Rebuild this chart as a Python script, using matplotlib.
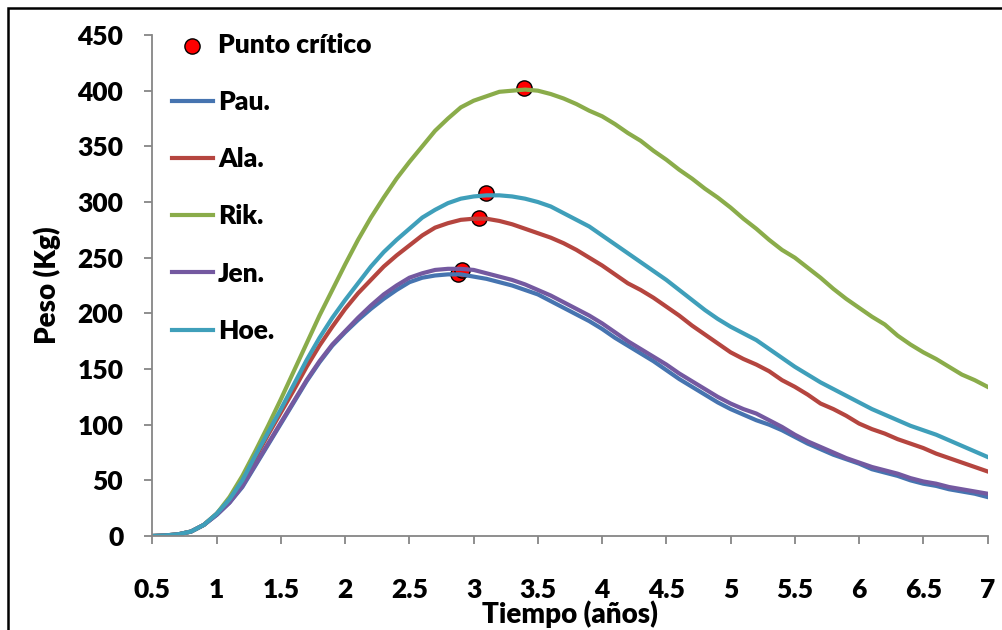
import matplotlib
matplotlib.use("Agg")
import matplotlib.pyplot as plt
from matplotlib.patches import Rectangle

plt.rcParams["font.family"] = ["Lato", "DejaVu Sans"]
plt.rcParams["font.weight"] = "heavy"
W = "heavy"

# tiempo (años), paso 0.1
t = [round(0.5 + 0.1 * i, 1) for i in range(66)]

pau = [0, 0.5, 1.5, 4, 10, 19, 30, 44, 63, 82, 101, 120, 139, 156, 171, 183, 194, 204, 213, 221,
       228, 232, 234, 235, 235, 233, 231, 228, 225, 221, 217, 211, 205, 199, 193, 186, 178, 171, 164, 157,
       149, 141, 134, 127, 120, 114, 109, 104, 100, 95, 89, 83, 78, 73, 69, 65, 60, 57, 54, 50,
       47, 45, 42, 40, 38, 35]
ala = [0, 0.5, 1.5, 4, 10, 20, 32, 48, 70, 91, 111, 131, 152, 171, 188, 204, 218, 230, 242, 252,
       261, 270, 277, 281, 284, 285, 285, 283, 280, 276, 272, 268, 263, 257, 250, 243, 235, 227, 221, 214,
       206, 198, 189, 181, 173, 165, 159, 154, 148, 140, 134, 127, 119, 114, 108, 101, 96, 92, 87, 83,
       79, 74, 70, 66, 62, 58]
rik = [0, 0.5, 1.5, 4, 10, 20, 35, 54, 76, 99, 123, 148, 173, 198, 221, 244, 266, 286, 304, 321,
       336, 350, 364, 375, 385, 391, 395, 399, 400, 401, 400, 397, 393, 388, 382, 377, 370, 362, 355, 346,
       338, 329, 321, 312, 304, 295, 285, 276, 266, 257, 250, 241, 232, 222, 213, 205, 197, 190, 180, 172,
       165, 159, 152, 145, 140, 134]
jen = [0, 0.5, 1.5, 4, 10, 19, 30, 45, 64, 83, 102, 121, 140, 157, 172, 184, 196, 207, 217, 225,
       232, 236, 239, 240, 240, 239, 236, 233, 230, 226, 221, 216, 210, 204, 198, 191, 183, 175, 168, 161,
       154, 146, 139, 132, 125, 119, 114, 110, 104, 98, 91, 85, 80, 75, 70, 66, 62, 59, 56, 52,
       49, 47, 44, 42, 40, 38]
hoe = [0, 0.5, 1.5, 4, 10, 20, 33, 50, 72, 93, 114, 136, 158, 178, 196, 212, 227, 242, 255, 266,
       276, 286, 293, 299, 303, 305, 306, 306, 305, 303, 300, 296, 290, 284, 278, 270, 262, 254, 246, 238,
       230, 221, 212, 203, 195, 188, 182, 176, 168, 160, 152, 145, 138, 132, 126, 120, 114, 109, 104, 99,
       95, 91, 86, 81, 76, 71]

# puntos críticos (máximos)
crit_t = [2.88, 3.04, 3.39, 2.91, 3.10]
crit_w = [235, 286, 402, 239, 308]

series = [("Pau.", pau, "#4674b0"), ("Ala.", ala, "#b5453f"), ("Rik.", rik, "#8aac4a"),
          ("Jen.", jen, "#7459a0"), ("Hoe.", hoe, "#3f9fba")]

fig = plt.figure(figsize=(10.03, 6.30), dpi=100)
ax = fig.add_axes([0.152, 0.1492, 0.8326, 0.7952])

ax.scatter(crit_t, crit_w, s=120, c="#ff0000", edgecolors="black", linewidths=1.0,
           zorder=1, label="Punto crítico")
for name, vals, col in series:
    ax.plot(t, vals, color=col, lw=3.0, zorder=2, label=name)

ax.set_xlim(0.5, 7)
ax.set_ylim(0, 450)
ax.set_xticks([0.5 + 0.5 * i for i in range(14)])
ax.set_xticklabels(["0.5", "1", "1.5", "2", "2.5", "3", "3.5", "4", "4.5", "5", "5.5", "6", "6.5", "7"])
ax.set_yticks(range(0, 451, 50))

for s in ("top", "right"):
    ax.spines[s].set_visible(False)
for s in ("left", "bottom"):
    ax.spines[s].set_color("#868686")
    ax.spines[s].set_linewidth(1.3)
ax.tick_params(axis="x", colors="#868686", length=6, width=1.3, pad=24, labelcolor="black", labelsize=19)
ax.tick_params(axis="y", colors="#868686", length=6, width=1.3, pad=15, labelcolor="black", labelsize=19)

ax.set_xlabel("Tiempo (años)", fontsize=20, fontweight=W, labelpad=-1)
ax.set_ylabel("Peso (Kg)", fontsize=20, fontweight=W, labelpad=12)

leg = ax.legend(loc="upper left", bbox_to_anchor=(0.023, 1.005), frameon=False,
                prop={"size": 19, "weight": W}, handlelength=1.55, handletextpad=0.2,
                labelspacing=1.26, borderpad=0, borderaxespad=0)

# marco exterior
fig.patches.append(Rectangle((8.5 / 1003, -0.05), 1.2, 1.05 - 8.5 / 630,
                             transform=fig.transFigure, fill=False, edgecolor="black",
                             linewidth=1.8, zorder=10))

fig.savefig("out.png", dpi=100)
